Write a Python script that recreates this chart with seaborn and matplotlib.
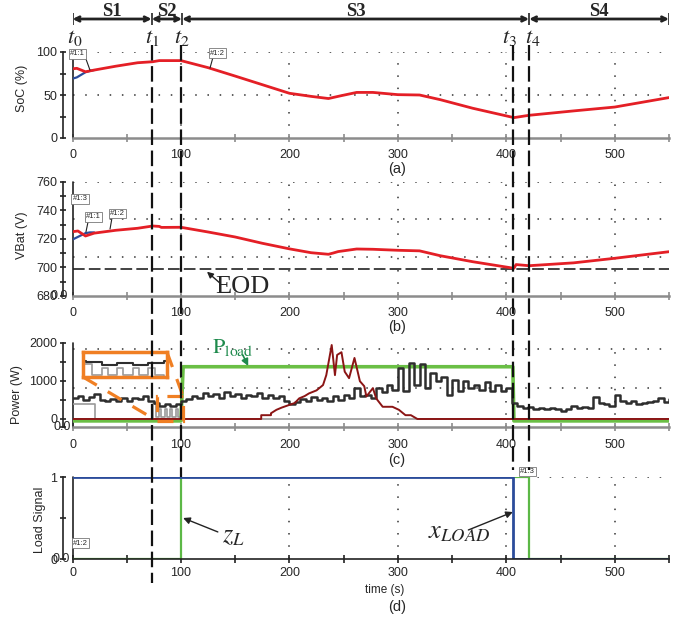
import matplotlib
matplotlib.use("Agg")
import matplotlib.pyplot as plt
import matplotlib.transforms as mtrans
from matplotlib.lines import Line2D
from matplotlib.patches import Rectangle
import seaborn as sns

# ---- values ----
phase_names = ["S1", "S2", "S3", "S4"]
phase_bounds = [0, 73, 101, 421, 550]
event_names = ["$t_0$", "$t_1$", "$t_2$", "$t_3$", "$t_4$"]
event_times = [0, 73, 100, 406, 421]

# (a) state of charge
soc_t = [0, 4, 12, 20, 40, 60, 74, 80, 100, 125, 150, 175, 200, 220, 236, 247,
         262, 277, 300, 320, 339, 369, 407, 421, 462, 500, 550]
soc_red = [80.5, 81, 77, 79, 83.5, 87.5, 88.7, 90, 90, 81.8, 72, 62, 52, 48.4, 45.9, 49,
           53, 53, 50.4, 50, 44.6, 34.6, 23.7, 26.4, 31.5, 36, 47]
soc_blue_t = [0, 4, 8, 12, 16, 20]
soc_blue = [69, 70.5, 73.5, 76.5, 78, 79]

# (b) battery voltage
vbat_t = [0, 5, 12, 20, 40, 60, 74, 80, 82, 100, 125, 150, 175, 200, 220, 236, 240, 245,
          262, 277, 300, 320, 339, 369, 407, 409, 421, 462, 500, 550]
vbat_red = [725, 725.5, 722, 724, 726, 727.4, 729, 728.7, 728, 728.1, 724.8, 721.3, 716.9, 713,
            710.3, 709.2, 710, 711.1, 712.9, 712.7, 712, 711.6, 708.2, 704, 699.4, 702, 701.2,
            703.2, 706.4, 711]
vbat_blue_t = [0, 4, 8, 12, 16, 20]
vbat_blue = [719.5, 721, 722.5, 724, 724.5, 724.5]
eod_level = 699

# (c) power
pwr_t = list(range(0, 551, 5))
pwr_black = [560, 600, 500, 570, 660, 500, 470, 520, 460, 540,
             480, 560, 520, 590, 470, 420, 350, 390, 340, 400,
             460, 520, 600, 560, 680, 590, 650, 560, 700, 600,
             660, 560, 640, 590, 680, 540, 620, 560, 600, 470,
             380, 450, 530, 470, 580, 500, 560, 470, 590, 500,
             620, 560, 800, 600, 640, 560, 810, 700, 880, 760,
             1340, 730, 1470, 890, 1450, 810, 1200, 990, 1100, 630,
             1030, 730, 1000, 800, 900, 770, 960, 730, 880, 730,
             820, 420, 340, 300, 320, 270, 290, 260, 300, 250,
             200, 250, 350, 280, 310, 290, 580, 420, 380, 350,
             640, 470, 420, 460, 380, 420, 440, 480, 560, 440,
             530]
grey_t = [0, 21, 74, 77, 80, 82, 85, 87, 90, 92, 95, 97, 100, 550]
grey_w = [380, 0, 380, 50, 250, 50, 250, 50, 250, 50, 250, 50, 0, 0]
maroon_t = [0, 174, 174, 183, 183, 188, 193, 200, 205, 209, 214, 218, 225, 231, 234, 239,
            242, 244, 248, 251, 255, 260, 265, 269, 271, 277, 280, 286, 295, 301, 307, 312,
            318, 550]
maroon_w = [0, 0, 100, 100, 150, 240, 300, 370, 420, 540, 600, 670, 750, 890, 1150, 1940,
            1150, 1680, 1750, 1240, 1070, 1600, 990, 860, 590, 810, 540, 320, 320, 240, 100, 100,
            0, 0]
pload_t = [0, 100, 102, 406, 407, 550]
pload_w = [-50, -50, 1370, 1370, -50, -50]

# (d) load signals
xload_t = [0, 406, 406, 550]
xload = [1, 1, 0, 0]
zl_t = [0, 100, 100, 421, 421, 550]
zl = [0, 0, 1, 1, 0, 0]

RED = "#e41f26"
BLUE = "#2b4c9b"
GREEN = "#6abf45"
DKGREEN = "#1e8a4c"
MAROON = "#8b1515"
BLACK = "#2e2e2e"
GREY = "#9a9a9a"
ORANGE = "#f07f23"

sns.set_theme(style="white")
plt.rcParams["font.family"] = ["Liberation Sans", "DejaVu Sans"]
plt.rcParams["mathtext.fontset"] = "stix"

W, H = 689, 622
fig = plt.figure(figsize=(W / 100, H / 100), dpi=100)


def fx(px):
    return px / W


def fy(py):
    return 1 - py / H


L, R = 72.5, 669


def panel(top, bottom):
    return fig.add_axes([fx(L), fy(bottom), fx(R) - fx(L), (bottom - top) / H])


ax_a = panel(52, 138)
ax_b = panel(181.7, 296)
ax_c = panel(342.7, 427)
ax_d = panel(477, 559)

GRID = dict(color="#333333", lw=1.1, ls=(0, (1, 7)), zorder=0.5)


def setup(ax, ylim, major, minor, xcol="#8c8c8c", xpad=5):
    ax.set_xlim(0, 550)
    ax.set_ylim(*ylim)
    ax.set_xticks(range(0, 501, 100))
    ax.set_xticks(range(50, 551, 100), minor=True)
    ax.set_yticks(major)
    ax.set_yticks(minor, minor=True)
    for s in ("top", "right"):
        ax.spines[s].set_visible(False)
    ax.spines["left"].set_position(("outward", 6.8))
    ax.spines["left"].set_color("#222222")
    ax.spines["left"].set_linewidth(1.2)
    ax.spines["bottom"].set_color(xcol)
    ax.spines["bottom"].set_linewidth(1.8)
    ax.tick_params(axis="x", which="both", direction="inout", length=6, width=1.2,
                   color=xcol, labelsize=9, pad=xpad, bottom=True)
    ax.tick_params(axis="y", which="both", direction="inout", length=5, width=1.2,
                   color="#222222", labelsize=9, pad=1.5, left=True)
    ax.axvline(0, color="#222222", lw=1.2, clip_on=False)
    for x in range(100, 501, 100):
        ax.axvline(x, **GRID)
    ax.set_xlabel("")
    ax.set_ylabel("")


def tag(ax, x, y, s):
    ax.text(x, y, s, fontsize=5.5, ha="left", va="center", clip_on=False, zorder=6,
            bbox=dict(boxstyle="square,pad=0.15", fc="white", ec="#777777", lw=0.6))


def leader(ax, p0, p1):
    ax.annotate("", xy=p1, xytext=p0, arrowprops=dict(arrowstyle="-", lw=0.8, color="#222222",
                                                       shrinkA=0, shrinkB=0))


LP = dict(estimator=None, sort=False, legend=False)

# ---- (a) SoC ----
setup(ax_a, (0, 100), [0, 50, 100], [25, 75])
for y in (50, 100):
    ax_a.axhline(y, **GRID)
sns.lineplot(x=soc_blue_t, y=soc_blue, ax=ax_a, color=BLUE, lw=1.6, **LP)
sns.lineplot(x=soc_t, y=soc_red, ax=ax_a, color=RED, lw=2.0, **LP)
tag(ax_a, -2.3, 97.7, "#1:1")
leader(ax_a, (12.4, 91.9), (16.1, 79))
tag(ax_a, 127, 98.8, "#1:2")
leader(ax_a, (129.6, 94.2), (126.8, 81.4))

# ---- (b) VBat ----
setup(ax_b, (680, 760), [680, 700, 720, 740, 760], [690, 710, 730, 750])
for y in (707, 734, 760):
    ax_b.axhline(y, **GRID)
ax_b.axhline(eod_level, color="#222222", lw=1.2, ls=(0, (7, 2.5)), zorder=1)
sns.lineplot(x=vbat_blue_t, y=vbat_blue, ax=ax_b, color=BLUE, lw=1.6, **LP)
sns.lineplot(x=vbat_t, y=vbat_red, ax=ax_b, color=RED, lw=2.0, **LP)
tag(ax_b, 0, 747.9, "#1:3")
tag(ax_b, 12.4, 735.3, "#1:1")
leader(ax_b, (14.3, 731.8), (12.4, 724.8))
tag(ax_b, 34.6, 737.7, "#1:2")
leader(ax_b, (36.4, 734.6), (34.6, 726.9))
ax_b.text(132, 682, "EOD", fontsize=19, family="Liberation Serif", ha="left", va="baseline")
ax_b.annotate("", xy=(124, 697), xytext=(136, 689),
              arrowprops=dict(arrowstyle="-|>", color="#222222", lw=1.0, mutation_scale=9,
                              shrinkA=0, shrinkB=0))
ax_b.text(-0.0075, 0, "0.0", transform=ax_b.transAxes, ha="right", va="center", fontsize=9)

# ---- (c) Power ----
setup(ax_c, (-210, 2000), [0, 1000, 2000], [-210, 500, 1500], xpad=6)
for y in (820, 1827):
    ax_c.axhline(y, **GRID)
sns.lineplot(x=pload_t, y=pload_w, ax=ax_c, color=GREEN, lw=2.6, **LP)
sns.lineplot(x=grey_t, y=grey_w, ax=ax_c, color=GREY, lw=1.2, drawstyle="steps-post", **LP)
sns.lineplot(x=pwr_t, y=pwr_black, ax=ax_c, color=BLACK, lw=1.8, drawstyle="steps-post", **LP)
sns.lineplot(x=maroon_t, y=maroon_w, ax=ax_c, color=MAROON, lw=1.4, **LP)
ax_c.text(-0.002, 0, "0.0", transform=ax_c.transAxes, ha="right", va="center", fontsize=9)

# zoom inset of the S2 stretch
inset_box = (9.7, 87.1, 1101, 1756)
zoom_box = (78, 102, -50, 590)
ins = ax_c.inset_axes([inset_box[0], inset_box[2], inset_box[1] - inset_box[0],
                       inset_box[3] - inset_box[2]], transform=ax_c.transData)
sns.lineplot(x=grey_t, y=grey_w, ax=ins, color=GREY, lw=1.2, drawstyle="steps-post", **LP)
sns.lineplot(x=pwr_t, y=pwr_black, ax=ins, color=BLACK, lw=1.5, drawstyle="steps-post", **LP)
ins.set_xlim(74, 101)
ins.set_ylim(0, 720)
ins.set_xticks([])
ins.set_yticks([])
ins.set_xlabel("")
ins.set_ylabel("")
ins.set_facecolor("white")
for s in ins.spines.values():
    s.set_color(ORANGE)
    s.set_linewidth(2.5)
    s.set_visible(True)
ax_c.add_patch(Rectangle((zoom_box[0], zoom_box[2]), zoom_box[1] - zoom_box[0],
                         zoom_box[3] - zoom_box[2], fill=False, ec=ORANGE, lw=2.3,
                         ls=(0, (5, 3)), clip_on=False, zorder=4))
ax_c.add_line(Line2D([inset_box[0], zoom_box[0]], [inset_box[2], zoom_box[2]], color=ORANGE,
                     lw=2.3, ls=(0, (5, 4)), zorder=4))
ax_c.add_line(Line2D([inset_box[1], zoom_box[1]], [inset_box[3], zoom_box[3]], color=ORANGE,
                     lw=2.3, ls=(0, (5, 4)), zorder=4))
ax_c.text(129, 1730, r"$\mathrm{P}_{\mathrm{load}}$", color=DKGREEN, fontsize=16,
          ha="left", va="baseline")
ax_c.annotate("", xy=(162, 1390), xytext=(157, 1678),
              arrowprops=dict(arrowstyle="-|>", color=DKGREEN, lw=1.2, mutation_scale=10,
                              shrinkA=0, shrinkB=0))

# ---- (d) load signals ----
setup(ax_d, (0, 1), [0, 1], [0.5], xcol="#222222", xpad=3)
ax_d.spines["bottom"].set_linewidth(1.2)
ax_d.axhline(1, **GRID)
sns.lineplot(x=zl_t, y=zl, ax=ax_d, color="#5cb846", lw=1.6, **LP)
sns.lineplot(x=xload_t, y=xload, ax=ax_d, color=BLUE, lw=2.0, **LP)
tag(ax_d, 0.5, 0.195, "#1:2")
tag(ax_d, 412.6, 1.07, "#1:3")
ax_d.text(-0.004, 0, "0.0", transform=ax_d.transAxes, ha="right", va="center", fontsize=9)
ax_d.text(138, 0.207, r"$z_L$", fontsize=19, ha="left", va="baseline")
ax_d.annotate("", xy=(102, 0.5), xytext=(134, 0.33),
              arrowprops=dict(arrowstyle="-|>", color="#222222", lw=1.0, mutation_scale=10,
                              shrinkA=0, shrinkB=0))
ax_d.text(328, 0.256, r"$x_{LOAD}$", fontsize=19, ha="left", va="baseline")
ax_d.annotate("", xy=(406, 0.573), xytext=(365, 0.354),
              arrowprops=dict(arrowstyle="-|>", color="#222222", lw=1.0, mutation_scale=10,
                              shrinkA=0, shrinkB=0))

# ---- phase bar on top ----
ax_top = fig.add_axes([fx(L), fy(45), fx(R) - fx(L), 45 / H])
ax_top.set_xlim(0, 550)
ax_top.set_ylim(45, 0)
ax_top.axis("off")
for a, b, name in zip(phase_bounds[:-1], phase_bounds[1:], phase_names):
    ax_top.annotate("", xy=(b, 19), xytext=(a, 19),
                    arrowprops=dict(arrowstyle="<->", lw=2.0, color="#222222",
                                    mutation_scale=8, shrinkA=0, shrinkB=0))
    ax_top.text((a + b) / 2, 11, name, ha="center", va="center", fontsize=13.5,
                family="Liberation Serif", weight="bold")
ax_top.vlines(phase_bounds, 13, 25, color="#222222", lw=1.2)
event_dx = [2, 0, 1, -3, 3]
for t, name, dx in zip(event_times, event_names, event_dx):
    ax_top.text(t + dx, 37, name, ha="center", va="center", fontsize=16)

# dashed event lines through all panels
blend = mtrans.blended_transform_factory(ax_d.transData, fig.transFigure)
line_ends = [583, 477, 470, 470]
for t, end in zip(event_times[1:], line_ends):
    fig.add_artist(Line2D([t, t], [fy(45), fy(end)], transform=blend, color="#111111",
                          lw=1.6, ls=(0, (7, 2.5)), zorder=10))

# ---- labels ----
for (x, y), s in zip([(22, 88), (22, 235), (17, 395), (40, 520)],
                     ["SoC (%)", "VBat (V)", "Power (W)", "Load Signal"]):
    fig.text(fx(x), fy(y), s, rotation=90, ha="center", va="center", fontsize=9)
for y, s in zip([169, 327, 460, 607], ["(a)", "(b)", "(c)", "(d)"]):
    fig.text(fx(397), fy(y), s, ha="center", va="center", fontsize=10.5)
fig.text(fx(385), fy(590), "time (s)", ha="center", va="center", fontsize=8.5)

fig.savefig("out.png", dpi=100)
